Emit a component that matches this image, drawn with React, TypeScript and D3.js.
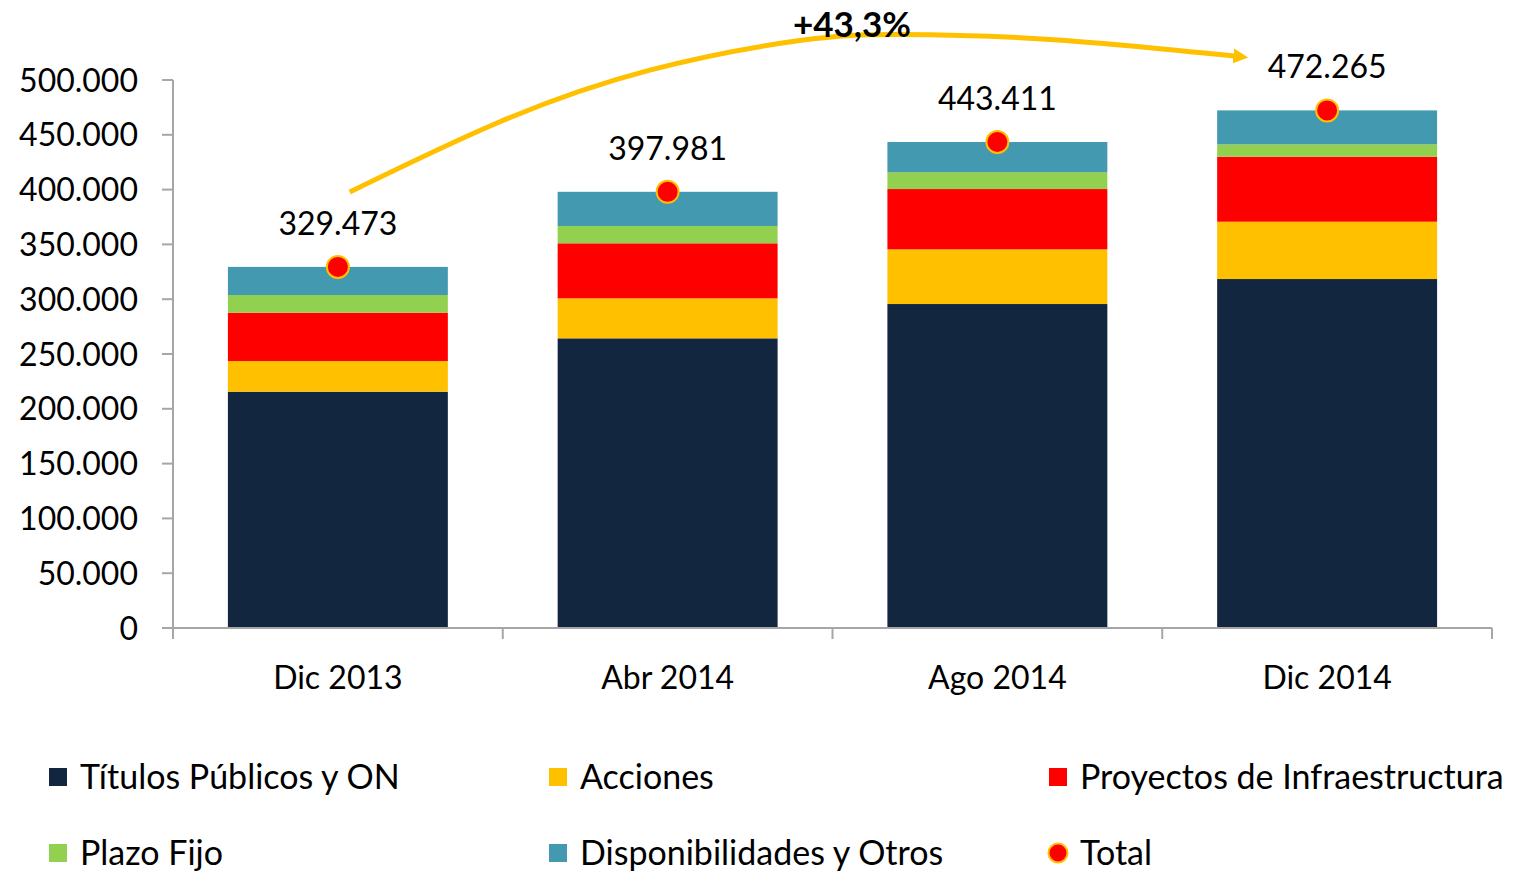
import React from "react";
import * as d3 from "d3";

const categories = ["Dic 2013", "Abr 2014", "Ago 2014", "Dic 2014"];
const titulos = [215600, 264300, 295600, 318400];
const acciones = [28000, 36500, 49900, 52300];
const proyectos = [44100, 50200, 55000, 59300];
const plazoFijo = [16100, 15800, 15300, 11300];
const disponibilidades = [25673, 31181, 27611, 30965];
const totals = [329473, 397981, 443411, 472265];
const totalLabels = ["329.473", "397.981", "443.411", "472.265"];
const yTicks = [0, 50000, 100000, 150000, 200000, 250000, 300000, 350000, 400000, 450000, 500000];
const growthLabel = "+43,3%";
// annotation arrow path in data units: [category position (0 = first centre), value]
const arrowPoints: [number, number][] = [
  [0.036, 397800],
  [0.49, 461700],
  [0.946, 509000],
  [1.4, 536000],
  [1.705, 541500],
  [2.16, 537000],
  [2.72, 521800],
];

const seriesNames = [
  "Títulos Públicos y ON",
  "Acciones",
  "Proyectos de Infraestructura",
  "Plazo Fijo",
  "Disponibilidades y Otros",
];
const seriesValues = [titulos, acciones, proyectos, plazoFijo, disponibilidades];
const seriesColors = ["#13263F", "#FFC000", "#FF0000", "#92D050", "#4399B0"];

const W = 1516;
const H = 871;
const FONT = "Lato, 'Open Sans', sans-serif";

export default function App() {
  const x = d3
    .scaleBand<string>()
    .domain(categories)
    .range([173, 1492])
    .paddingInner(0.333)
    .paddingOuter(0.1665);
  const y = d3.scaleLinear().domain([0, 500000]).range([628, 80]);
  const step = x.step();
  const center = (i: number) => (x(categories[0]) as number) + x.bandwidth() / 2 + i * step;

  const stackData = categories.map((c, i) => {
    const row: any = { cat: c };
    seriesNames.forEach((s, k) => (row[s] = seriesValues[k][i]));
    return row;
  });
  const stacked = d3.stack<any>().keys(seriesNames)(stackData);

  const arrowLine = d3
    .line<[number, number]>()
    .x((d) => center(d[0]))
    .y((d) => y(d[1]))
    .curve(d3.curveNatural);

  const legendCols = [49, 549, 1049];
  const legendRows = [777, 853];
  const legendItems = [...seriesNames.map((n, k) => ({ name: n, color: seriesColors[k], type: "rect" })), { name: "Total", color: "#FF0000", type: "dot" }];

  return (
    <svg
      width={W}
      height={H}
      style={{ position: "absolute", left: 0, top: 0, background: "#fff" }}
      fontFamily={FONT}
    >
      <defs>
        <marker id="arrowhead" viewBox="0 0 10 10" refX="1" refY="5" markerWidth="3" markerHeight="3.4" orient="auto" markerUnits="strokeWidth">
          <path d="M0,0 L10,5 L0,10 Z" fill="#FFC000" />
        </marker>
      </defs>

      {/* bars */}
      {stacked.map((layer, k) => (
        <g key={layer.key} fill={seriesColors[k]}>
          {layer.map((d, i) => (
            <rect
              key={i}
              x={x(categories[i])}
              y={y(d[1])}
              width={x.bandwidth()}
              height={y(d[0]) - y(d[1])}
            />
          ))}
        </g>
      ))}

      {/* axes */}
      <g stroke="#A6A6A6" strokeWidth={2}>
        <line x1={173} x2={173} y1={y(500000)} y2={y(0)} />
        {yTicks.map((t) => (
          <line key={t} x1={162} x2={173} y1={y(t)} y2={y(t)} />
        ))}
        <line x1={162} x2={1492} y1={y(0)} y2={y(0)} />
        {d3.range(categories.length + 1).map((i) => (
          <line key={i} x1={173 + i * step} x2={173 + i * step} y1={y(0)} y2={y(0) + 11} />
        ))}
      </g>
      <g fontSize={32} fill="#000" textAnchor="end">
        {yTicks.map((t) => (
          <text key={t} x={138} y={y(t)} dy="0.36em">
            {d3.format(",")(t).replace(/,/g, ".")}
          </text>
        ))}
      </g>

      {/* category labels */}
      <g fontSize={32} fill="#000" textAnchor="middle">
        {categories.map((c, i) => (
          <text key={c} x={center(i)} y={689}>
            {c}
          </text>
        ))}
      </g>

      {/* arrow */}
      <path
        d={arrowLine(arrowPoints) as string}
        fill="none"
        stroke="#FFC000"
        strokeWidth={5}
        markerEnd="url(#arrowhead)"
      />
      <text x={852} y={37} fontSize={35} fontWeight="bold" textAnchor="middle" fill="#000">
        {growthLabel}
      </text>

      {/* totals */}
      {totals.map((t, i) => (
        <g key={i}>
          <circle cx={center(i)} cy={y(t)} r={11} fill="#FF0000" stroke="#FFC000" strokeWidth={2} />
          <text x={center(i)} y={y(t) - 32} fontSize={32} textAnchor="middle" fill="#000">
            {totalLabels[i]}
          </text>
        </g>
      ))}

      {/* legend */}
      {legendItems.map((it, idx) => {
        const col = idx % 3;
        const row = Math.floor(idx / 3);
        const lx = legendCols[col];
        const ly = legendRows[row];
        return (
          <g key={it.name}>
            {it.type === "rect" ? (
              <rect x={lx} y={ly - 9} width={18} height={18} fill={it.color} />
            ) : (
              <circle cx={lx + 9} cy={ly} r={9.5} fill={it.color} stroke="#FFC000" strokeWidth={2} />
            )}
            <text x={lx + 31} y={ly} dy="0.36em" fontSize={34} fill="#000">
              {it.name}
            </text>
          </g>
        );
      })}
    </svg>
  );
}
